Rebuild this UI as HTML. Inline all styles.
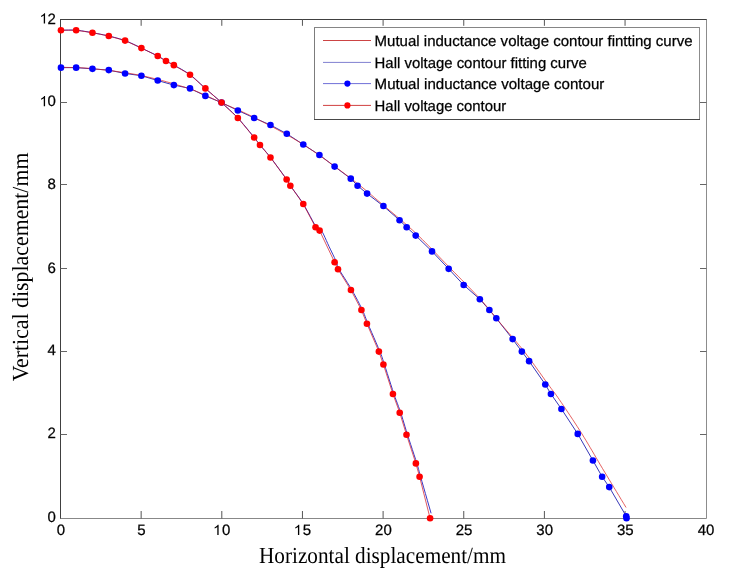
<!DOCTYPE html>
<html><head><meta charset="utf-8"><style>
html,body{margin:0;padding:0;background:#fff;}
body{width:730px;height:579px;overflow:hidden;}
svg{display:block;will-change:transform;}
text{text-rendering:geometricPrecision;}
</style></head><body>
<svg width="730" height="579" viewBox="0 0 730 579"><rect width="730" height="579" fill="#fff"/><path d="M60.5,19.0 V519.0" stroke="#404040" stroke-width="1"/><path d="M60.0,19.5 H707.0" stroke="#404040" stroke-width="1"/><path d="M706.5,19.5 V518.5" stroke="#8c8c8c" stroke-width="1"/><path d="M60.5,518.5 H706.5" stroke="#888" stroke-width="1"/><path d="M141.15,518.5 V511.0 M141.15,19.5 V25.8 M221.80,518.5 V511.0 M221.80,19.5 V25.8 M302.45,518.5 V511.0 M302.45,19.5 V25.8 M383.10,518.5 V511.0 M383.10,19.5 V25.8 M463.75,518.5 V511.0 M463.75,19.5 V25.8 M544.40,518.5 V511.0 M544.40,19.5 V25.8 M625.05,518.5 V511.0 M625.05,19.5 V25.8" stroke="#555" stroke-width="1" fill="none"/><path d="M60.5,434.5 H67.0 M706.5,434.5 H700.0 M60.5,351.5 H67.0 M706.5,351.5 H700.0 M60.5,268.5 H67.0 M706.5,268.5 H700.0 M60.5,184.5 H67.0 M706.5,184.5 H700.0 M60.5,102.5 H67.0 M706.5,102.5 H700.0" stroke="#666" stroke-width="1" fill="none"/><g fill="none" stroke-width="1" stroke-linejoin="round"><path d="M60.95,30.21 L63.46,30.18 L65.97,30.12 L68.47,30.05 L70.99,30.02 L73.54,30.07 L76.13,30.21 L78.79,30.47 L81.49,30.83 L84.22,31.25 L86.97,31.72 L89.72,32.21 L92.45,32.70 L95.17,33.20 L97.89,33.70 L100.61,34.24 L103.33,34.80 L106.05,35.39 L108.77,36.03 L111.48,36.69 L114.20,37.35 L116.92,38.06 L119.64,38.82 L122.36,39.66 L125.08,40.60 L127.80,41.68 L130.52,42.87 L133.24,44.14 L135.96,45.45 L138.68,46.78 L141.40,48.09 L144.21,49.41 L147.14,50.80 L150.06,52.19 L152.87,53.55 L155.46,54.83 L157.71,55.99 L159.56,57.00 L161.07,57.90 L162.36,58.71 L163.53,59.48 L164.69,60.23 L165.95,60.97 L167.20,61.65 L168.31,62.22 L169.42,62.77 L170.63,63.38 L172.08,64.14 L173.87,65.13 L176.09,66.37 L178.67,67.77 L181.48,69.32 L184.39,71.00 L187.28,72.80 L190.02,74.69 L192.62,76.74 L195.17,78.94 L197.70,81.27 L200.23,83.66 L202.78,86.06 L205.37,88.41 L208.02,90.73 L210.69,93.05 L213.39,95.38 L216.10,97.73 L218.82,100.12 L221.53,102.55 L224.24,104.99 L226.95,107.43 L229.68,109.90 L232.40,112.45 L235.12,115.11 L237.84,117.93 L240.68,121.09 L243.67,124.58 L246.66,128.20 L249.50,131.70 L252.05,134.87 L254.16,137.47 L255.68,139.36 L256.70,140.68 L257.43,141.66 L258.08,142.54 L258.86,143.56 L259.98,144.96 L261.39,146.64 L262.92,148.39 L264.58,150.28 L266.38,152.38 L268.34,154.74 L270.48,157.43 L272.99,160.73 L275.90,164.65 L278.98,168.84 L281.96,172.93 L284.59,176.59 L286.63,179.46 L287.86,181.28 L288.45,182.27 L288.69,182.82 L288.89,183.31 L289.34,184.15 L290.35,185.70 L291.97,187.99 L293.97,190.72 L296.22,193.78 L298.61,197.08 L301.00,200.52 L303.27,203.99 L305.53,207.82 L307.91,212.12 L310.30,216.57 L312.57,220.81 L314.63,224.49 L316.35,227.27 L317.64,228.84 L318.56,229.40 L319.27,229.41 L319.89,229.31 L320.59,229.56 L321.49,230.60 L322.60,232.51 L323.82,234.94 L325.10,237.72 L326.41,240.67 L327.72,243.62 L329.00,246.40 L330.31,249.13 L331.69,251.99 L333.07,254.84 L334.38,257.58 L335.55,260.07 L336.51,262.20 L337.10,263.72 L337.33,264.69 L337.42,265.42 L337.59,266.22 L338.04,267.39 L339.00,269.27 L340.58,271.95 L342.63,275.21 L344.97,278.85 L347.41,282.68 L349.79,286.48 L351.93,290.05 L353.88,293.50 L355.79,297.00 L357.64,300.47 L359.39,303.85 L361.00,307.05 L362.43,310.01 L363.56,312.49 L364.39,314.52 L365.08,316.38 L365.80,318.34 L366.69,320.70 L367.92,323.73 L369.63,327.73 L371.70,332.52 L373.96,337.71 L376.20,342.88 L378.24,347.64 L379.88,351.58 L381.00,354.41 L381.75,356.37 L382.29,357.92 L382.80,359.50 L383.44,361.54 L384.40,364.47 L385.73,368.55 L387.31,373.48 L389.02,378.87 L390.77,384.34 L392.44,389.50 L393.93,393.99 L395.22,397.70 L396.40,400.90 L397.50,403.81 L398.56,406.62 L399.62,409.51 L400.72,412.70 L401.82,416.10 L402.88,419.55 L403.95,423.09 L405.05,426.77 L406.22,430.64 L407.50,434.73 L408.98,439.31 L410.64,444.37 L412.38,449.62 L414.07,454.75 L415.61,459.45 L416.87,463.42 L417.74,466.26 L418.28,468.13 L418.66,469.58 L419.06,471.14 L419.64,473.34 L420.59,476.72 L421.94,481.48 L423.58,487.20 L425.41,493.56 L427.34,500.25 L429.26,506.94 L431.09,513.31" stroke="#3838c8"/><path d="M60.95,30.21 L76.13,30.21 L92.45,32.70 L108.77,36.03 L125.08,40.60 L141.40,48.09 L157.71,55.99 L165.95,60.97 L173.87,65.13 L190.02,74.69 L205.37,88.41 L221.53,102.55 L237.84,117.93 L254.16,137.47 L259.98,144.96 L270.48,157.43 L286.63,179.46 L290.35,185.70 L303.27,203.99 L315.55,227.27 L319.59,230.60 L334.61,262.20 L338.00,269.27 L350.93,290.05 L361.43,310.01 L366.92,323.73 L378.88,351.58 L383.40,364.47 L392.93,393.99 L399.72,412.70 L406.50,434.73 L415.87,463.42 L419.59,476.72 L430.09,518.30" stroke="#d00010" stroke-opacity="0.65"/><path d="M60.95,67.63 L76.13,67.63 L92.45,68.87 L108.77,70.12 L125.08,73.45 L141.40,75.73 L157.71,80.52 L173.87,85.09 L190.02,88.41 L205.37,95.90 L221.53,102.55 L237.84,110.45 L254.16,117.93 L270.48,125.00 L286.79,133.73 L303.27,144.54 L319.43,154.93 L334.61,166.58 L350.77,178.63 L357.55,185.70 L367.08,193.60 L383.40,206.07 L399.56,220.21 L406.66,227.27 L415.71,235.59 L432.03,251.39 L448.67,268.85 L463.69,285.06 L479.85,299.20 L489.38,310.01 L496.32,318.32 L512.64,339.11 L521.85,351.58 L529.12,361.15 L545.27,384.43 L550.93,393.99 L561.43,408.96 L577.74,433.90 L592.93,460.51 L602.14,476.72 L609.25,487.12 L626.21,516.22 L626.53,518.30" stroke="#3838b8"/><path d="M60.30,67.21 L63.46,67.33 L66.50,67.42 L69.48,67.48 L72.45,67.53 L75.45,67.60 L78.52,67.70 L81.73,67.83 L85.11,68.03 L88.72,68.30 L92.61,68.67 L96.80,69.10 L101.27,69.59 L105.96,70.12 L110.83,70.71 L115.83,71.36 L120.91,72.06 L126.03,72.82 L131.12,73.66 L136.16,74.55 L141.07,75.53 L145.99,76.59 L151.03,77.76 L156.12,79.02 L161.24,80.34 L166.32,81.72 L171.32,83.14 L176.19,84.57 L180.88,86.01 L185.35,87.44 L189.54,88.83 L193.43,90.21 L197.04,91.60 L200.42,93.00 L203.63,94.40 L206.70,95.82 L209.70,97.24 L212.67,98.67 L215.65,100.10 L218.69,101.53 L221.85,102.97 L225.01,104.35 L228.05,105.66 L231.03,106.92 L234.00,108.18 L237.00,109.46 L240.07,110.81 L243.28,112.25 L246.66,113.83 L250.27,115.57 L254.16,117.52 L258.35,119.65 L262.82,121.94 L267.51,124.36 L272.38,126.91 L277.38,129.57 L282.46,132.33 L287.58,135.18 L292.67,138.10 L297.71,141.09 L302.62,144.12 L307.54,147.29 L312.58,150.65 L317.67,154.15 L322.79,157.74 L327.87,161.38 L332.87,165.02 L337.74,168.61 L342.43,172.11 L346.90,175.47 L351.09,178.63 L354.98,181.61 L358.59,184.44 L361.97,187.16 L365.18,189.78 L368.25,192.35 L371.25,194.89 L374.22,197.42 L377.20,199.97 L380.24,202.56 L383.40,205.24 L386.63,207.95 L389.86,210.65 L393.09,213.35 L396.32,216.05 L399.56,218.78 L402.79,221.53 L406.02,224.33 L409.25,227.19 L412.48,230.10 L415.71,233.10 L418.94,236.18 L422.17,239.34 L425.40,242.57 L428.63,245.85 L431.87,249.18 L435.10,252.53 L438.33,255.90 L441.56,259.26 L444.79,262.62 L448.02,265.94 L451.31,269.29 L454.69,272.72 L458.12,276.20 L461.56,279.69 L464.98,283.17 L468.34,286.59 L471.59,289.94 L474.70,293.18 L477.62,296.28 L480.33,299.20 L482.77,301.90 L484.95,304.39 L486.92,306.72 L488.75,308.93 L490.49,311.07 L492.19,313.20 L493.90,315.35 L495.69,317.59 L497.61,319.95 L499.72,322.48 L501.99,325.17 L504.36,327.94 L506.82,330.79 L509.33,333.70 L511.89,336.67 L514.47,339.68 L517.05,342.73 L519.61,345.81 L522.13,348.90 L524.59,352.00 L527.06,355.20 L529.59,358.57 L532.15,362.05 L534.71,365.58 L537.24,369.10 L539.69,372.54 L542.05,375.86 L544.27,378.99 L546.33,381.86 L548.18,384.43 L549.76,386.57 L551.05,388.30 L552.12,389.71 L553.05,390.91 L553.91,392.02 L554.75,393.13 L555.66,394.36 L556.71,395.81 L557.96,397.59 L559.49,399.81 L561.29,402.46 L563.30,405.43 L565.47,408.65 L567.76,412.08 L570.14,415.66 L572.57,419.34 L575.00,423.06 L577.40,426.76 L579.73,430.39 L581.94,433.90 L584.06,437.32 L586.12,440.70 L588.15,444.08 L590.14,447.46 L592.13,450.84 L594.13,454.26 L596.14,457.71 L598.19,461.21 L600.29,464.77 L602.46,468.41 L604.70,472.13 L606.98,475.93 L609.31,479.80 L611.68,483.71 L614.06,487.66 L616.47,491.64 L618.88,495.62 L621.28,499.60 L623.68,503.56 L626.05,507.49" stroke="#d82020" stroke-opacity="0.7"/></g><g fill="#0000ff"><circle cx="60.95" cy="67.63" r="3.3"/><circle cx="76.13" cy="67.63" r="3.3"/><circle cx="92.45" cy="68.87" r="3.3"/><circle cx="108.77" cy="70.12" r="3.3"/><circle cx="125.08" cy="73.45" r="3.3"/><circle cx="141.40" cy="75.73" r="3.3"/><circle cx="157.71" cy="80.52" r="3.3"/><circle cx="173.87" cy="85.09" r="3.3"/><circle cx="190.02" cy="88.41" r="3.3"/><circle cx="205.37" cy="95.90" r="3.3"/><circle cx="221.53" cy="102.55" r="3.3"/><circle cx="237.84" cy="110.45" r="3.3"/><circle cx="254.16" cy="117.93" r="3.3"/><circle cx="270.48" cy="125.00" r="3.3"/><circle cx="286.79" cy="133.73" r="3.3"/><circle cx="303.27" cy="144.54" r="3.3"/><circle cx="319.43" cy="154.93" r="3.3"/><circle cx="334.61" cy="166.58" r="3.3"/><circle cx="350.77" cy="178.63" r="3.3"/><circle cx="357.55" cy="185.70" r="3.3"/><circle cx="367.08" cy="193.60" r="3.3"/><circle cx="383.40" cy="206.07" r="3.3"/><circle cx="399.56" cy="220.21" r="3.3"/><circle cx="406.66" cy="227.27" r="3.3"/><circle cx="415.71" cy="235.59" r="3.3"/><circle cx="432.03" cy="251.39" r="3.3"/><circle cx="448.67" cy="268.85" r="3.3"/><circle cx="463.69" cy="285.06" r="3.3"/><circle cx="479.85" cy="299.20" r="3.3"/><circle cx="489.38" cy="310.01" r="3.3"/><circle cx="496.32" cy="318.32" r="3.3"/><circle cx="512.64" cy="339.11" r="3.3"/><circle cx="521.85" cy="351.58" r="3.3"/><circle cx="529.12" cy="361.15" r="3.3"/><circle cx="545.27" cy="384.43" r="3.3"/><circle cx="550.93" cy="393.99" r="3.3"/><circle cx="561.43" cy="408.96" r="3.3"/><circle cx="577.74" cy="433.90" r="3.3"/><circle cx="592.93" cy="460.51" r="3.3"/><circle cx="602.14" cy="476.72" r="3.3"/><circle cx="609.25" cy="487.12" r="3.3"/><circle cx="626.21" cy="516.22" r="3.3"/><circle cx="626.53" cy="518.30" r="3.3"/></g><g fill="#ff0000"><circle cx="60.95" cy="30.21" r="3.3"/><circle cx="76.13" cy="30.21" r="3.3"/><circle cx="92.45" cy="32.70" r="3.3"/><circle cx="108.77" cy="36.03" r="3.3"/><circle cx="125.08" cy="40.60" r="3.3"/><circle cx="141.40" cy="48.09" r="3.3"/><circle cx="157.71" cy="55.99" r="3.3"/><circle cx="165.95" cy="60.97" r="3.3"/><circle cx="173.87" cy="65.13" r="3.3"/><circle cx="190.02" cy="74.69" r="3.3"/><circle cx="205.37" cy="88.41" r="3.3"/><circle cx="221.53" cy="102.55" r="3.3"/><circle cx="237.84" cy="117.93" r="3.3"/><circle cx="254.16" cy="137.47" r="3.3"/><circle cx="259.98" cy="144.96" r="3.3"/><circle cx="270.48" cy="157.43" r="3.3"/><circle cx="286.63" cy="179.46" r="3.3"/><circle cx="290.35" cy="185.70" r="3.3"/><circle cx="303.27" cy="203.99" r="3.3"/><circle cx="315.55" cy="227.27" r="3.3"/><circle cx="319.59" cy="230.60" r="3.3"/><circle cx="334.61" cy="262.20" r="3.3"/><circle cx="338.00" cy="269.27" r="3.3"/><circle cx="350.93" cy="290.05" r="3.3"/><circle cx="361.43" cy="310.01" r="3.3"/><circle cx="366.92" cy="323.73" r="3.3"/><circle cx="378.88" cy="351.58" r="3.3"/><circle cx="383.40" cy="364.47" r="3.3"/><circle cx="392.93" cy="393.99" r="3.3"/><circle cx="399.72" cy="412.70" r="3.3"/><circle cx="406.50" cy="434.73" r="3.3"/><circle cx="415.87" cy="463.42" r="3.3"/><circle cx="419.59" cy="476.72" r="3.3"/><circle cx="430.09" cy="518.30" r="3.3"/></g><g style='font-family:"Liberation Sans",sans-serif' font-size="15" fill="#000" stroke="#000" stroke-width="0.25"><text x="47.46" y="522.30">0</text><text x="47.46" y="438.30">2</text><text x="47.46" y="355.40">4</text><text x="47.46" y="273.10">6</text><text x="47.46" y="189.30">8</text><path transform="translate(40.22,106.30) scale(0.007324,-0.007324)" d="M663 0H483V1100Q418 1040 312 980T123 890V1058Q273 1126 385 1223T545 1409H663Z" fill="#000"/><text x="47.46" y="106.30">0</text><path transform="translate(40.22,23.50) scale(0.007324,-0.007324)" d="M663 0H483V1100Q418 1040 312 980T123 890V1058Q273 1126 385 1223T545 1409H663Z" fill="#000"/><text x="47.46" y="23.50">2</text><text x="56.63" y="535.00">0</text><text x="137.28" y="535.00">5</text><path transform="translate(213.76,535.00) scale(0.007324,-0.007324)" d="M663 0H483V1100Q418 1040 312 980T123 890V1058Q273 1126 385 1223T545 1409H663Z" fill="#000"/><text x="222.10" y="535.00">0</text><path transform="translate(294.41,535.00) scale(0.007324,-0.007324)" d="M663 0H483V1100Q418 1040 312 980T123 890V1058Q273 1126 385 1223T545 1409H663Z" fill="#000"/><text x="302.75" y="535.00">5</text><text x="375.06" y="535.00">2</text><text x="383.40" y="535.00">0</text><text x="455.71" y="535.00">2</text><text x="464.05" y="535.00">5</text><text x="536.36" y="535.00">3</text><text x="544.70" y="535.00">0</text><text x="617.01" y="535.00">3</text><text x="625.35" y="535.00">5</text><text x="697.66" y="535.00">4</text><text x="706.00" y="535.00">0</text></g><text x="259" y="562.9" style='font-family:"Liberation Serif",serif' font-size="23" textLength="247" lengthAdjust="spacingAndGlyphs">Horizontal displacement/mm</text><text transform="translate(28.0,381.3) rotate(-90)" x="0" y="0" style='font-family:"Liberation Serif",serif' font-size="23" textLength="228.7" lengthAdjust="spacingAndGlyphs">Vertical displacement/mm</text><rect x="314.5" y="27.5" width="385" height="92" fill="#fff"/><path d="M314.5,27 V120" stroke="#7c7c7c" stroke-width="1"/><path d="M314,27.5 H700" stroke="#858585" stroke-width="1"/><path d="M699.5,27 V120" stroke="#8c8c8c" stroke-width="1"/><path d="M314,119.5 H700" stroke="#484848" stroke-width="1"/><path d="M323,40.5 H371" stroke="#cc4444" stroke-width="1"/><text x="374.6" y="45.60" style='font-family:"Liberation Sans",sans-serif' font-size="15" stroke="#000" stroke-width="0.25" textLength="318" lengthAdjust="spacingAndGlyphs">Mutual inductance voltage contour fintting curve</text><path d="M323,62.4 H371" stroke="#8080d0" stroke-width="1"/><text x="374.6" y="67.50" style='font-family:"Liberation Sans",sans-serif' font-size="15" stroke="#000" stroke-width="0.25" textLength="212.2" lengthAdjust="spacingAndGlyphs">Hall voltage contour fitting curve</text><path d="M323,83.6 H371" stroke="#7070d8" stroke-width="1"/><circle cx="347.4" cy="83.6" r="3.1" fill="#0000ff"/><text x="374.6" y="88.70" style='font-family:"Liberation Sans",sans-serif' font-size="15" stroke="#000" stroke-width="0.25" textLength="229.7" lengthAdjust="spacingAndGlyphs">Mutual inductance voltage contour</text><path d="M323,105.4 H371" stroke="#d04040" stroke-width="1"/><circle cx="347.4" cy="105.4" r="3.1" fill="#ff0000"/><text x="374.6" y="110.50" style='font-family:"Liberation Sans",sans-serif' font-size="15" stroke="#000" stroke-width="0.25" textLength="131.7" lengthAdjust="spacingAndGlyphs">Hall voltage contour</text></svg>
</body></html>
